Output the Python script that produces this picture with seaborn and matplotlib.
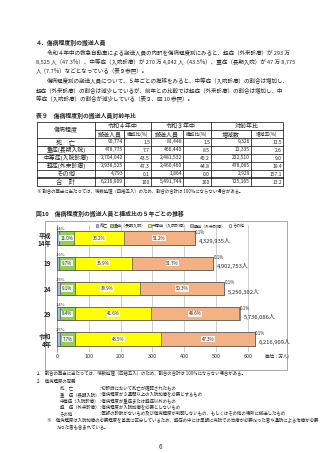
import numpy as np
import pandas as pd
import matplotlib
matplotlib.use("Agg")
import matplotlib.pyplot as plt
import seaborn as sns
from matplotlib.patches import Patch, Rectangle

# --- データ ---
years = ["平成\n14年", "19", "24", "29", "令和\n4年"]
categories = ["死亡", "重症（長期入院）", "中等症（入院診療）", "軽症（外来診療）", "その他"]
pct_death = [1.4, 1.6, 1.5, 1.4, 1.5]
pct_severe = [11.0, 9.7, 9.1, 8.4, 7.7]
pct_moderate = [36.2, 36.9, 38.9, 41.6, 43.5]
pct_mild = [51.2, 51.7, 50.3, 48.6, 47.3]
pct_other = [0.1, 0.1, 0.1, 0.1, 0.1]
totals = [4329935, 4902753, 5250302, 5736086, 6216909]
colors = ["#9DC3E6", "#92D050", "#FFFF00", "#F4B183", "#FFFFFF"]

tbl_rows = ["死　亡", "重症(長期入院)", "中等症(入院診療)", "軽症(外来診療)", "その他", "合　計"]
r4_count = ["90,774", "478,775", "2,704,042", "2,938,525", "4,793", "6,216,909"]
r4_pct = ["1.5", "7.7", "43.5", "47.3", "0.1", "100"]
r3_count = ["81,448", "466,440", "2,481,532", "2,460,460", "1,864", "5,491,744"]
r3_pct = ["1.5", "8.5", "45.2", "44.8", "0.0", "100"]
diff_count = ["9,326", "12,335", "222,510", "478,065", "2,929", "725,165"]
diff_rate = ["11.5", "2.6", "9.0", "19.4", "157.1", "13.2"]

para = [
    (47, "令和４年中の救急自動車による搬送人員の内訳を傷病程度別にみると、軽症（外来診療）が 293 万"),
    (36, "8,525 人（47.3％）、中等症（入院診療）が 270 万 4,042 人（43.5％）、重症（長期入院）が 47 万 8,775"),
    (36, "人（7.7％）などとなっている（表９参照）。"),
    (47, "傷病程度別の搬送人員について、５年ごとの推移をみると、中等症（入院診療）の割合は増加し、"),
    (36, "軽症（外来診療）の割合は減少しているが、前年との比較では軽症（外来診療）の割合は増加し、中"),
    (36, "等症（入院診療）の割合が減少している（表９、図 10 参照）。"),
]
notes_def = [
    ("死　亡", "：初診時において死亡が確認されたもの"),
    ("重　症（長期入院）", "：傷病程度が３週間以上の入院加療を必要とするもの"),
    ("中等症（入院診療）", "：傷病程度が重症または軽症以外のもの"),
    ("軽　症（外来診療）", "：傷病程度が入院加療を必要としないもの"),
    ("その他", "：医師の診断がないもの及び傷病程度が判明しないもの、もしくはその他の場所に搬送したもの"),
]

sns.set_style("white")
plt.rcParams["font.family"] = ["Noto Sans CJK JP", "DejaVu Sans"]

W, H = 320, 453
fig = plt.figure(figsize=(W / 100, H / 100), dpi=100)
fig.patch.set_facecolor("white")

# ページ全体を画素座標で扱う背景軸
bg = fig.add_axes([0, 0, 1, 1])
bg.set_xlim(0, W)
bg.set_ylim(H, 0)
bg.axis("off")

fs = 4.0
bg.text(36, 43, "４．傷病程度別の搬送人員", fontsize=4.2, fontweight="bold", va="center")
for i, (x, s) in enumerate(para):
    y = [53, 62, 71, 81, 90, 99][i]
    bg.text(x, y, s, fontsize=fs, va="center")

# --- 表９ ---
bg.text(36, 116, "表９　傷病程度別の搬送人員対前年比", fontsize=4.2, fontweight="bold", va="center")
xe = [37, 95, 124, 151, 183, 211, 251, 283]
ye = [122, 130, 138, 146, 154, 162, 170, 178, 186]
lw = 0.5
bg.add_patch(Rectangle((xe[0], ye[0]), xe[-1] - xe[0], ye[-1] - ye[0], fill=False, lw=lw, ec="black"))
for y in ye[2:-1]:
    bg.plot([xe[0], xe[-1]], [y, y], color="black", lw=lw)
bg.plot([xe[0], xe[-1]], [ye[-2] - 1, ye[-2] - 1], color="black", lw=lw)
bg.plot([xe[1], xe[-1]], [ye[1], ye[1]], color="black", lw=lw)
for i, x in enumerate(xe[1:-1], start=1):
    top = ye[0] if i % 2 == 1 else ye[1]
    bg.plot([x, x], [top, ye[-1]], color="black", lw=lw)
bg.text((xe[0] + xe[1]) / 2, ye[1], "傷病程度", fontsize=4.3, ha="center", va="center")
for j, s in enumerate(["令和４年中", "令和３年中", "対前年比"]):
    bg.text((xe[1 + 2 * j] + xe[3 + 2 * j]) / 2, (ye[0] + ye[1]) / 2, s, fontsize=4.3, ha="center", va="center")
sub = ["搬送人員", "構成比(%)", "搬送人員", "構成比(%)", "増減数", "増減率(%)"]
for j, s in enumerate(sub):
    big = j in (0, 2, 4)
    bg.text((xe[1 + j] + xe[2 + j]) / 2, (ye[1] + ye[2]) / 2, s,
            fontsize=4.3 if big else 3.4, ha="center", va="center")
cols = [r4_count, r4_pct, r3_count, r3_pct, diff_count, diff_rate]
for r, name in enumerate(tbl_rows):
    yc = (ye[2 + r] + ye[3 + r]) / 2
    bg.text((xe[0] + xe[1]) / 2, yc, name, fontsize=4.6 if len(name) <= 3 else 4.2,
            ha="center", va="center")
    for j, col in enumerate(cols):
        bg.text(xe[2 + j] - 1, yc, col[r], fontsize=3.6, ha="right", va="center")
bg.text(37, 192, "※ 割合の算出に当たっては、端数処理（四捨五入）のため、割合の合計は 100％にならない場合がある。",
        fontsize=3.2, va="center")

# --- 図10 ---
bg.text(36, 214, "図10　傷病程度別の搬送人員と構成比の５年ごとの推移", fontsize=4.2, fontweight="bold", va="center")
bg.add_patch(Rectangle((45, 221), 242, 149, fill=False, lw=0.6, ec="#999999"))

df = pd.DataFrame({"year": years, "total": np.array(totals) / 1e4})
pcts = np.array([pct_death, pct_severe, pct_moderate, pct_mild, pct_other])
seg = pcts / pcts.sum(axis=0) * df["total"].values
cum = np.cumsum(seg, axis=0)

px_per = 0.3183
ax_left, ax_top, bar_gap = 57, 238 - 12.6, 25.25
ax_w, ax_h = 700 * px_per, 5 * bar_gap
ax = fig.add_axes([ax_left / W, 1 - (ax_top + ax_h) / H, ax_w / W, ax_h / H])
for k in range(4, -1, -1):
    d = pd.DataFrame({"year": years, "v": cum[k]})
    sns.barplot(data=d, x="v", y="year", orient="h", color=colors[k], width=0.52,
                edgecolor="#555555", linewidth=0.5, saturation=1, ax=ax, zorder=3)
ax.set_xlim(0, 700)
ax.set_ylim(4.5, -0.5)
ax.set_xticks(range(0, 700, 100))
ax.tick_params(axis="x", labelsize=4, length=0, pad=2, colors="#333333")
ax.tick_params(axis="y", labelsize=4.5, length=0, pad=4)
for t in ax.get_yticklabels():
    t.set_fontweight("bold")
ax.set_xlabel("")
ax.set_ylabel("")
ax.grid(axis="x", color="#BBBBBB", lw=0.5, zorder=0)
for s in ["top", "right", "bottom"]:
    ax.spines[s].set_visible(False)
ax.spines["left"].set_color("#888888")
ax.spines["left"].set_linewidth(0.5)

box = dict(boxstyle="square,pad=0.15", fc="white", ec="none", alpha=0.85)
for i in range(5):
    for k in (1, 2, 3):
        xc = cum[k][i] - seg[k][i] / 2
        ax.text(xc, i, f"{pcts[k][i]:.1f}%", fontsize=3.2, ha="center", va="center", bbox=box, zorder=5)
    ax.text(-4, i - 0.34, f"{pcts[0][i]:.1f}%", fontsize=3.0, ha="left", va="center", zorder=5)
    ax.text(cum[4][i] + 1, i - 0.22, f"{pcts[4][i]:.1f}%", fontsize=3.2, ha="left", va="center", zorder=5)
    ax.text(cum[4][i] + 12, i + 0.12, f"{totals[i]:,}人", fontsize=4.2, ha="left", va="center", zorder=5)
bg.text(262, 356, "（単位：万人）", fontsize=3.2, ha="left", va="center")

handles = [Patch(facecolor=c, edgecolor="#555555", linewidth=0.4) for c in colors]
fig.legend(handles, categories, loc="center", bbox_to_anchor=(170 / W, 1 - 226 / H), ncol=5,
           fontsize=2.9, frameon=False, handlelength=0.7, handleheight=0.7, handletextpad=0.25,
           columnspacing=0.6, borderpad=0.1)

# --- 注記 ---
bg.text(36, 374, "１　割合の算出に当たっては、端数処理（四捨五入）のため、割合の合計は 100％にならない場合がある。",
        fontsize=3.2, va="center")
bg.text(36, 381, "２　傷病程度の定義", fontsize=3.2, va="center")
for i, (a, b) in enumerate(notes_def):
    y = 388 + i * 6.5
    bg.text(60, y, a, fontsize=3.2, va="center")
    bg.text(97, y, b, fontsize=3.2, va="center")
bg.text(47, 421, "※　傷病程度は入院加療の必要程度を基準に区分しているため、軽症の中には早期に病院での治療が必要だった者や通院による治療が必要",
        fontsize=3.2, va="center")
bg.text(57, 427, "だった者も含まれている。", fontsize=3.2, va="center")
bg.text(160, 447, "6", fontsize=4.5, ha="center", va="center")

fig.savefig("out.png", dpi=100)
